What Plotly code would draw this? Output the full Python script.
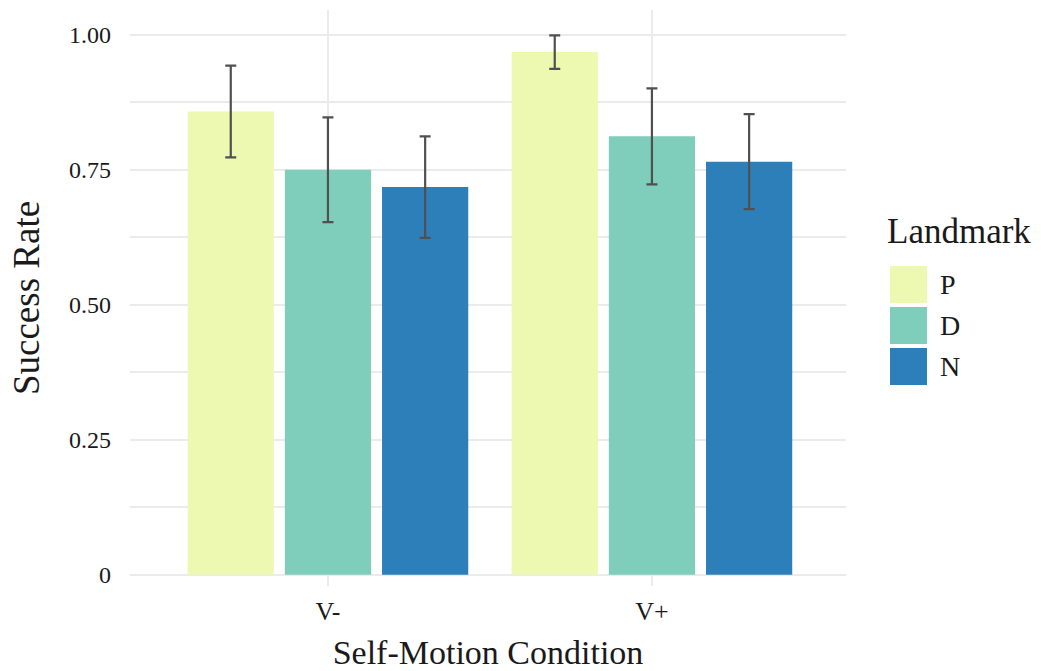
import plotly.graph_objects as go

# Data: success rate by self-motion condition and landmark type
conditions = ["V-", "V+"]
landmarks = ["P", "D", "N"]
success_P = [0.858, 0.968]
success_D = [0.750, 0.812]
success_N = [0.718, 0.765]
err_P = [0.085, 0.031]
err_D = [0.097, 0.089]
err_N = [0.094, 0.088]
colors = ["#edf8b1", "#7fcdbb", "#2c7fb8"]

y_tickvals = [0, 0.25, 0.5, 0.75, 1.0]
y_ticktext = ["0", "0.25", "0.50", "0.75", "1.00"]

FONT = "Liberation Serif"
TXT = "#1a1a1a"
GRID = "#ebebeb"

W, H = 1041, 671
L, R, T, B = 130, 195, 10, 85

values = [success_P, success_D, success_N]
errors = [err_P, err_D, err_N]

fig = go.Figure()
for name, vals, err, col in zip(landmarks, values, errors, colors):
    fig.add_trace(go.Bar(
        x=conditions, y=vals, name=name,
        marker=dict(color=col, line=dict(width=0)),
        error_y=dict(type="data", array=err, color="#505050", thickness=2.2, width=5.5),
        showlegend=False,
    ))

# Hand-built legend with large key squares
plot_w = W - L - R
plot_h = H - T - B


def px_x(x):
    return (x - L) / plot_w


def px_y(y):
    return (H - B - y) / plot_h


shapes = []
annotations = []
key_left, key_size, key_step, key_top = 890, 37, 41, 266
for i, (name, col) in enumerate(zip(landmarks, colors)):
    top = key_top + i * key_step
    shapes.append(dict(
        type="rect", xref="paper", yref="paper",
        x0=px_x(key_left), x1=px_x(key_left + key_size),
        y0=px_y(top + key_size), y1=px_y(top),
        fillcolor=col, line=dict(width=0), layer="above",
    ))
    annotations.append(dict(
        text=name, xref="paper", yref="paper",
        x=px_x(key_left + key_size + 11), y=px_y(top + key_size / 2),
        xanchor="left", yanchor="middle", showarrow=False,
        font=dict(family=FONT, size=28, color=TXT),
    ))
annotations.append(dict(
    text="Landmark", xref="paper", yref="paper",
    x=px_x(885), y=px_y(232), xanchor="left", yanchor="middle",
    showarrow=False, font=dict(family=FONT, size=35, color=TXT),
))

fig.update_layout(
    width=W, height=H,
    margin=dict(l=L, r=R, t=T, b=B),
    paper_bgcolor="white", plot_bgcolor="white",
    barmode="group", bargap=0.10, bargroupgap=0.113,
    font=dict(family=FONT, color=TXT),
    shapes=shapes, annotations=annotations,
    xaxis=dict(
        range=[-0.611, 1.599], automargin=False,
        showgrid=True, gridcolor=GRID, gridwidth=2,
        zeroline=False, showline=False, ticks="",
        tickfont=dict(family=FONT, size=26, color=TXT),
        ticklabelstandoff=7,
        title=dict(text="Self-Motion Condition",
                   font=dict(family=FONT, size=34, color=TXT), standoff=20),
    ),
    yaxis=dict(
        range=[-0.021, 1.046], automargin=False,
        tickvals=y_tickvals, ticktext=y_ticktext,
        showgrid=True, gridcolor=GRID, gridwidth=2,
        minor=dict(tickvals=[0.125, 0.375, 0.625, 0.875], showgrid=True,
                   gridcolor=GRID, gridwidth=1.5),
        zeroline=False, showline=False, ticks="",
        tickfont=dict(family=FONT, size=24, color=TXT),
        ticklabelstandoff=18,
        title=dict(text="Success Rate",
                   font=dict(family=FONT, size=37, color=TXT), standoff=18),
    ),
)

fig.write_html("out.html")
